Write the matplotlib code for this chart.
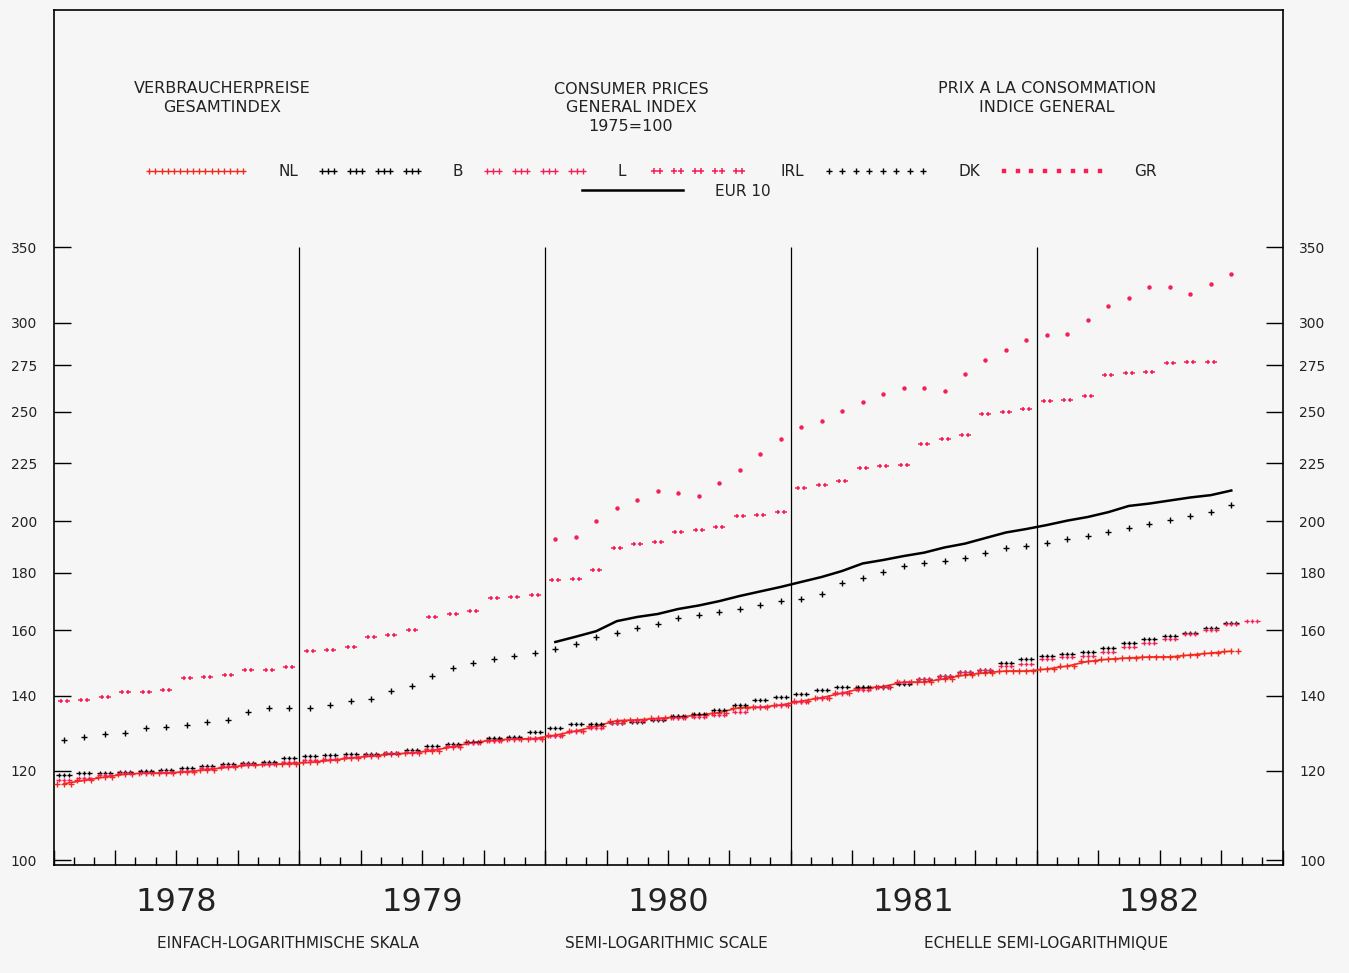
import matplotlib

matplotlib.use("Agg")
import matplotlib.pyplot as plt
import numpy as np
from matplotlib.lines import Line2D
from matplotlib.path import Path
from matplotlib.ticker import FixedLocator, FuncFormatter, MultipleLocator, NullLocator

# Consumer price index, 1975 = 100, monthly values; month 0 = January 1978
nl = [116.9, 117.7, 118.5, 119.2, 119.5, 119.5, 119.8, 120.3, 120.9, 121.4, 121.6, 121.8,
      122.1, 122.6, 123.2, 123.7, 124.2, 124.5, 125.1, 126.1, 127.2, 127.8, 128.1, 128.2,
      129.1, 130.2, 131.5, 133.0, 133.2, 133.6, 134.0, 134.5, 135.2, 136.6, 136.7, 137.3,
      138.4, 139.4, 140.7, 142.1, 142.6, 143.9, 143.9, 144.9, 146.0, 146.7, 147.2, 147.2,
      147.8, 148.7, 150.1, 150.8, 151.2, 151.5, 151.5, 152.1, 152.7, 153.3]
b = [119.0, 119.5, 119.6, 119.7, 120.0, 120.2, 120.6, 121.2, 121.6, 121.9, 122.3, 123.2,
     123.7, 123.9, 124.2, 124.3, 124.6, 125.2, 126.4, 126.9, 127.4, 128.3, 128.7, 129.9,
     131.0, 132.1, 132.1, 132.3, 132.7, 133.2, 134.2, 134.8, 135.9, 137.3, 138.7, 139.6,
     140.3, 141.7, 142.4, 142.4, 142.6, 143.3, 144.8, 145.7, 146.9, 147.6, 149.5, 150.8,
     151.8, 152.4, 153.0, 154.4, 155.9, 157.0, 158.1, 159.2, 160.7, 162.4]
lux = [117.8, 118.3, 119.0, 119.4, 119.6, 119.8, 120.1, 120.6, 121.1, 121.6, 121.8, 122.2,
       122.6, 123.0, 123.5, 124.0, 124.4, 124.8, 125.4, 126.2, 127.0, 127.6, 128.0, 128.3,
       128.9, 130.1, 131.1, 132.3, 132.9, 133.4, 133.8, 134.1, 134.6, 135.3, 136.7, 137.4,
       138.1, 139.4, 140.7, 141.6, 142.6, 143.8, 144.9, 145.8, 146.9, 147.6, 148.7, 149.3,
       150.8, 151.5, 151.9, 153.0, 154.6, 156.0, 157.1, 158.8, 160.2, 162.0, 162.9]
irl = [138.4, 138.7, 139.6, 141.0, 141.0, 141.6, 145.1, 145.4, 146.0, 147.5, 147.5, 148.4,
       153.3, 153.6, 154.6, 157.8, 158.4, 160.0, 164.4, 165.4, 166.4, 170.9, 171.2, 171.9,
       177.3, 177.6, 180.9, 189.3, 190.8, 191.6, 195.6, 196.4, 197.6, 202.1, 202.5, 203.7,
       214.0, 215.3, 217.1, 222.9, 223.8, 224.3, 234.1, 236.5, 238.5, 249.0, 250.0, 251.5,
       255.7, 256.2, 258.3, 269.6, 270.7, 271.3, 276.3, 276.9, 276.9]
dk = [127.8, 128.6, 129.3, 129.8, 130.9, 131.3, 131.8, 132.5, 133.3, 135.3, 136.5, 136.4,
      136.5, 137.2, 138.4, 139.0, 141.3, 142.7, 145.7, 148.1, 149.6, 150.8, 151.8, 152.7,
      154.0, 155.5, 157.8, 159.1, 160.7, 162.0, 164.2, 164.9, 166.1, 167.1, 168.6, 169.8,
      170.5, 172.3, 176.2, 178.0, 180.2, 182.3, 183.6, 184.3, 185.6, 187.4, 189.1, 189.9,
      191.4, 192.8, 193.8, 195.6, 197.0, 198.8, 200.4, 202.1, 203.9, 206.7]
# these two start in January 1980 (month 24)
gr = [192.8, 193.6, 200.0, 205.4, 208.8, 212.7, 211.8, 210.5, 216.2, 222.0, 229.4, 236.5,
      242.4, 245.4, 250.5, 255.1, 259.4, 262.5, 262.5, 260.9, 270.2, 278.0, 283.8, 289.6,
      292.9, 293.5, 301.7, 310.5, 315.6, 322.8, 322.5, 318.2, 324.8, 331.5]
eur10 = [156.2, 157.9, 159.7, 163.0, 164.4, 165.4, 167.1, 168.3, 169.8, 171.6, 173.2, 174.8,
         176.6, 178.4, 180.6, 183.4, 184.7, 186.2, 187.5, 189.5, 191.0, 193.2, 195.4, 196.8,
         198.4, 200.2, 201.7, 203.7, 206.3, 207.3, 208.6, 209.9, 210.9, 212.9]

years = [1978, 1979, 1980, 1981, 1982]
ytick_values = [100, 120, 140, 160, 180, 200, 225, 250, 275, 300, 350]

RED = "#f5281e"
PINK = "#f71d55"
BG = "#f6f6f6"


def months(values, start=0):
    return np.arange(len(values)) + start + 0.5


def crosses(positions, half=0.5):
    pos = np.asarray(positions, dtype=float)
    pos = pos - (pos.min() + pos.max()) / 2  # keep the marker centred
    verts, codes = [], []
    for c in pos:
        verts += [(c - half, 0), (c + half, 0), (c, -half), (c, half)]
        codes += [Path.MOVETO, Path.LINETO, Path.MOVETO, Path.LINETO]
    return Path(verts, codes)


def squares(positions, half=0.3):
    pos = np.asarray(positions, dtype=float)
    pos = pos - (pos.min() + pos.max()) / 2
    verts, codes = [], []
    for c in pos:
        verts += [(c - half, -half), (c + half, -half), (c + half, half),
                  (c - half, half), (c - half, -half)]
        codes += [Path.MOVETO, Path.LINETO, Path.LINETO, Path.LINETO, Path.CLOSEPOLY]
    return Path(verts, codes)


def grouped(n_groups, per_group, step, period):
    return [g * period + k * step for g in range(n_groups) for k in range(per_group)]


triple = crosses([-1.1, 0, 1.1])
pair = crosses([-0.65, 0.65])

fig = plt.figure(figsize=(13.49, 9.73), dpi=100, facecolor=BG)
ax = fig.add_axes([53.5 / 1349, 108 / 973, 1229 / 1349, 855 / 973], facecolor=BG)

ax.set_yscale("log")
ax.set_xlim(0, 60)
ax.set_ylim(99.0, 568.7)

# year boundaries drawn only over the data range
ax.vlines([12, 24, 36, 48], 99.0, 350, color="black", linewidth=0.9, zorder=1)

ax.plot(months(nl), nl, color=RED, linewidth=1.2, marker=triple, markersize=14,
        markeredgewidth=1.0, markerfacecolor="none", zorder=3)
ax.plot(months(b), b, linestyle="none", color="black", marker=triple, markersize=11,
        markeredgewidth=1.0, markerfacecolor="none", zorder=4)
ax.plot(months(lux), lux, linestyle="none", color=PINK, marker=triple, markersize=11,
        markeredgewidth=1.0, markerfacecolor="none", zorder=4)
ax.plot(months(irl), irl, linestyle="none", color=PINK, marker=pair, markersize=8,
        markeredgewidth=1.1, markerfacecolor="none", zorder=4)
ax.plot(months(dk), dk, linestyle="none", color="black", marker="+", markersize=5,
        markeredgewidth=1.0, zorder=4)
ax.plot(months(gr, 24), gr, linestyle="none", color=PINK, marker="o", markersize=3.2,
        markeredgewidth=0, zorder=4)
ax.plot(months(eur10, 24), eur10, color="black", linewidth=1.8, zorder=3)

# axes frame and ticks
for side in ax.spines.values():
    side.set_linewidth(1.2)
    side.set_color("black")

ax.yaxis.set_major_locator(FixedLocator(ytick_values))
ax.yaxis.set_minor_locator(NullLocator())
ax.yaxis.set_major_formatter(FuncFormatter(lambda v, _: f"{v:.0f}"))
ax.tick_params(axis="y", which="major", left=True, right=True, labelleft=True,
               labelright=True, direction="in", length=12.5, width=1.0, pad=12,
               labelsize=10, labelcolor="#222222")

ax.xaxis.set_major_locator(MultipleLocator(3))
ax.xaxis.set_minor_locator(MultipleLocator(1))
ax.xaxis.set_major_formatter(
    FuncFormatter(lambda v, _: str(years[int(round(v)) // 12])
                  if int(round(v)) % 12 == 6 else ""))
ax.tick_params(axis="x", which="major", direction="in", length=11, width=1.0, pad=16,
               labelsize=23, labelcolor="#222222", top=False)
ax.tick_params(axis="x", which="minor", direction="in", length=6, width=1.0, top=False)

# titles inside the frame
title_kw = dict(ha="center", va="center", fontsize=11.5, linespacing=1.3, color="#222222")
fig.text(222 / 1349, 1 - 98 / 973, "VERBRAUCHERPREISE\nGESAMTINDEX", **title_kw)
fig.text(631 / 1349, 1 - 108 / 973, "CONSUMER PRICES\nGENERAL INDEX\n1975=100", **title_kw)
fig.text(1047 / 1349, 1 - 98 / 973, "PRIX A LA CONSOMMATION\nINDICE GENERAL", **title_kw)

# legend with the plotter's line patterns
handles = [
    Line2D([], [], linestyle="none", color=RED, marker=crosses(np.arange(16) * 1.0),
           markersize=72, markeredgewidth=1.0, markerfacecolor="none"),
    Line2D([], [], linestyle="none", color="black", marker=crosses(grouped(4, 3, 0.95, 4.7)),
           markersize=73, markeredgewidth=1.0, markerfacecolor="none"),
    Line2D([], [], linestyle="none", color=PINK, marker=crosses(grouped(4, 3, 0.95, 4.7)),
           markersize=73, markeredgewidth=1.0, markerfacecolor="none"),
    Line2D([], [], linestyle="none", color=PINK, marker=crosses(grouped(5, 2, 1.1, 3.4)),
           markersize=68, markeredgewidth=1.1, markerfacecolor="none"),
    Line2D([], [], linestyle="none", color="black", marker=crosses(np.arange(8) * 2.3),
           markersize=72, markeredgewidth=1.0, markerfacecolor="none"),
    Line2D([], [], linestyle="none", color=PINK, marker=squares(np.arange(8) * 2.3, half=0.32),
           markersize=72, markeredgewidth=0.3, markerfacecolor=PINK),
]
labels = ["NL", "B", "L", "IRL", "DK", "GR"]
fig.legend(handles, labels, loc="center", bbox_to_anchor=(651 / 1349, 1 - 172 / 973),
           ncol=6, frameon=False, numpoints=1, fontsize=11, handlelength=6.6,
           handletextpad=2.1, columnspacing=1.4, labelcolor="#222222")
fig.legend([Line2D([], [], color="black", linewidth=1.8)], ["EUR 10"], loc="center",
           bbox_to_anchor=(676 / 1349, 1 - 191 / 973), frameon=False, fontsize=11,
           handlelength=6.6, handletextpad=2.1, labelcolor="#222222")

# captions under the axis
cap_kw = dict(ha="center", va="center", fontsize=11, color="#222222")
fig.text(288 / 1349, 1 - 944 / 973, "EINFACH-LOGARITHMISCHE SKALA", **cap_kw)
fig.text(666 / 1349, 1 - 944 / 973, "SEMI-LOGARITHMIC SCALE", **cap_kw)
fig.text(1046 / 1349, 1 - 944 / 973, "ECHELLE SEMI-LOGARITHMIQUE", **cap_kw)

fig.savefig("out.png", dpi=100, facecolor=BG)
